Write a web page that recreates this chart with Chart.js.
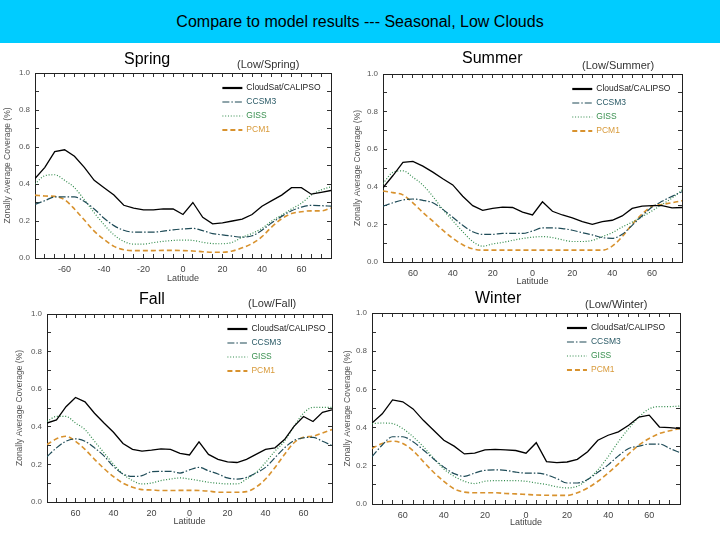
<!DOCTYPE html>
<html><head><meta charset="utf-8">
<script src="https://cdn.jsdelivr.net/npm/chart.js@4.4.0/dist/chart.umd.min.js"></script>
<style>
html,body{margin:0;padding:0;background:#fff;width:720px;height:540px;overflow:hidden;font-family:"Liberation Sans",Arial,sans-serif;}
#header{position:absolute;left:0;top:0;width:720px;height:43px;background:#00CCFF;color:#000;font-size:16px;text-align:center;line-height:43px;}
canvas{position:absolute;}
.lbl{position:absolute;white-space:nowrap;z-index:5;line-height:1;}
.big{font-size:16px;color:#000;}
.small{font-size:11px;color:#333;}
</style></head><body>
<div id="header">Compare to model results --- Seasonal, Low Clouds</div>
<canvas id="cSpring"></canvas>
<canvas id="cSummer"></canvas>
<canvas id="cFall"></canvas>
<canvas id="cWinter"></canvas>
<div class="lbl big" style="left:124px;top:51px;">Spring</div>
<div class="lbl small" style="left:237px;top:59px;">(Low/Spring)</div>
<div class="lbl big" style="left:462px;top:50px;">Summer</div>
<div class="lbl small" style="left:582px;top:60px;">(Low/Summer)</div>
<div class="lbl big" style="left:139px;top:291px;">Fall</div>
<div class="lbl small" style="left:248px;top:298px;">(Low/Fall)</div>
<div class="lbl big" style="left:475px;top:290px;">Winter</div>
<div class="lbl small" style="left:585px;top:299px;">(Low/Winter)</div>
<script>
// ---------- DATA ----------
const latitude = [-75,-70,-65,-60,-55,-50,-45,-40,-35,-30,-25,-20,-15,-10,-5,0,5,10,15,20,25,30,35,40,45,50,55,60,65,70,75];
const seriesNames = ["CloudSat/CALIPSO","CCSM3","GISS","PCM1"];

const springCloudSat = [0.43,0.49,0.575,0.585,0.55,0.49,0.42,0.38,0.34,0.285,0.27,0.26,0.26,0.265,0.265,0.235,0.30,0.22,0.185,0.19,0.20,0.21,0.235,0.28,0.31,0.34,0.38,0.38,0.345,0.355,0.365];
const springCCSM3    = [0.29,0.31,0.33,0.33,0.33,0.305,0.265,0.215,0.175,0.15,0.14,0.14,0.14,0.145,0.152,0.157,0.16,0.148,0.132,0.125,0.118,0.113,0.12,0.15,0.19,0.225,0.255,0.275,0.285,0.283,0.28];
const springGISS     = [0.40,0.445,0.45,0.42,0.38,0.315,0.245,0.18,0.125,0.09,0.075,0.075,0.083,0.09,0.095,0.097,0.095,0.085,0.078,0.077,0.085,0.112,0.133,0.16,0.2,0.232,0.265,0.296,0.34,0.368,0.385];
const springPCM1     = [0.34,0.335,0.333,0.315,0.265,0.205,0.145,0.1,0.063,0.045,0.04,0.04,0.04,0.041,0.041,0.04,0.038,0.034,0.031,0.031,0.038,0.055,0.078,0.115,0.168,0.212,0.24,0.25,0.255,0.255,0.27];

const summerCloudSat = [0.395,0.46,0.53,0.535,0.51,0.478,0.443,0.41,0.35,0.30,0.275,0.285,0.292,0.29,0.265,0.25,0.32,0.27,0.25,0.235,0.215,0.2,0.215,0.222,0.245,0.285,0.297,0.3,0.3,0.288,0.29];
const summerCCSM3    = [0.297,0.315,0.33,0.335,0.328,0.315,0.28,0.238,0.195,0.161,0.147,0.147,0.152,0.152,0.152,0.165,0.181,0.181,0.178,0.169,0.156,0.144,0.13,0.126,0.147,0.195,0.246,0.292,0.323,0.349,0.374];
const summerGISS     = [0.417,0.477,0.485,0.451,0.409,0.349,0.28,0.22,0.161,0.109,0.084,0.096,0.104,0.115,0.125,0.132,0.135,0.13,0.118,0.109,0.109,0.115,0.135,0.156,0.186,0.212,0.241,0.272,0.306,0.34,0.383];
const summerPCM1     = [0.378,0.369,0.357,0.315,0.263,0.217,0.169,0.126,0.092,0.07,0.063,0.063,0.063,0.063,0.063,0.063,0.063,0.063,0.063,0.063,0.063,0.063,0.063,0.084,0.135,0.2,0.255,0.297,0.306,0.315,0.326];

const fallCloudSat = [0.42,0.437,0.507,0.556,0.533,0.472,0.42,0.371,0.311,0.28,0.271,0.276,0.283,0.28,0.259,0.25,0.32,0.253,0.227,0.213,0.21,0.227,0.253,0.28,0.288,0.332,0.402,0.455,0.428,0.477,0.49];
const fallCCSM3    = [0.241,0.288,0.323,0.336,0.323,0.288,0.245,0.189,0.149,0.136,0.14,0.161,0.163,0.163,0.154,0.171,0.184,0.166,0.149,0.128,0.122,0.131,0.154,0.184,0.236,0.288,0.327,0.341,0.344,0.323,0.3];
const fallGISS     = [0.428,0.455,0.455,0.42,0.385,0.323,0.262,0.201,0.149,0.114,0.096,0.101,0.114,0.122,0.128,0.122,0.114,0.105,0.1,0.096,0.096,0.122,0.157,0.21,0.271,0.323,0.402,0.472,0.503,0.503,0.503];
const fallPCM1     = [0.306,0.336,0.35,0.323,0.28,0.227,0.178,0.135,0.1,0.079,0.066,0.064,0.061,0.061,0.062,0.062,0.061,0.058,0.052,0.052,0.052,0.055,0.079,0.122,0.184,0.253,0.315,0.344,0.35,0.367,0.385];

const winterCloudSat = [0.424,0.472,0.545,0.535,0.498,0.438,0.386,0.334,0.303,0.262,0.266,0.283,0.286,0.283,0.28,0.266,0.321,0.222,0.217,0.22,0.234,0.274,0.334,0.36,0.378,0.412,0.455,0.465,0.403,0.40,0.395];
const winterCCSM3    = [0.248,0.309,0.352,0.352,0.326,0.283,0.236,0.193,0.159,0.145,0.162,0.176,0.179,0.176,0.167,0.162,0.162,0.153,0.133,0.11,0.11,0.128,0.166,0.205,0.252,0.291,0.303,0.314,0.314,0.291,0.269];
const winterGISS     = [0.421,0.424,0.421,0.395,0.352,0.3,0.24,0.183,0.145,0.119,0.107,0.119,0.122,0.122,0.122,0.119,0.11,0.102,0.09,0.084,0.093,0.128,0.179,0.248,0.326,0.395,0.455,0.498,0.51,0.51,0.513];
const winterPCM1     = [0.291,0.317,0.329,0.317,0.279,0.222,0.166,0.119,0.079,0.062,0.059,0.059,0.059,0.055,0.053,0.05,0.047,0.046,0.045,0.045,0.059,0.084,0.119,0.162,0.21,0.262,0.309,0.343,0.369,0.383,0.395];

const xTickValues = [-60,-40,-20,0,20,40,60];
const springXTickLabels = ["-60","-40","-20","0","20","40","60"];
const otherXTickLabels  = ["60","40","20","0","20","40","60"];
const yTickLabels = ["0.0","0.2","0.4","0.6","0.8","1.0"];

// ---------- STYLE ----------
const seriesStyles = [
  {color:"#000000", text:"#222222", width:1.3, dash:[], legendWidth:2.2, smooth:false},
  {color:"#1e4b57", text:"#2a5a66", width:1.2, dash:[7,2,1.5,2], legendWidth:1.2, smooth:true},
  {color:"#2f8a4a", text:"#3a9050", width:1.2, dash:[1,1.8], legendWidth:1.2, smooth:true},
  {color:"#d8922e", text:"#d89a3a", width:1.6, dash:[5,3], legendWidth:2.2, smooth:true}
];
const FONT = '"Liberation Sans", Arial, sans-serif';
const TICK_IN = -4;   // negative length: tick marks point into the plot

const insideLegend = {
  id: 'insideLegend',
  afterDatasetsDraw(chart) {
    const {ctx, chartArea: a} = chart;
    ctx.save();
    chart.data.datasets.forEach((ds, i) => {
      const y = a.top + 15 + 14 * i;
      const x0 = a.left + 0.633 * (a.right - a.left);
      ctx.strokeStyle = ds.borderColor;
      ctx.lineWidth = ds.legendWidth;
      ctx.setLineDash(ds.borderDash || []);
      ctx.beginPath(); ctx.moveTo(x0, y); ctx.lineTo(x0 + 20, y); ctx.stroke();
      ctx.setLineDash([]);
      ctx.fillStyle = ds.textColor;
      ctx.font = '8.5px ' + FONT;
      ctx.textBaseline = 'middle'; ctx.textAlign = 'left';
      ctx.fillText(ds.label, x0 + 24, y);
    });
    ctx.restore();
  }
};

function makePanel(id, layout, seriesList, xLabels) {
  const cv = document.getElementById(id);
  cv.width = layout.width; cv.height = layout.height;
  cv.style.left = layout.left + 'px'; cv.style.top = layout.top + 'px';
  const yW = layout.plotLeft - layout.left;
  const xH = layout.top + layout.height - layout.plotBottom;
  const topH = 1, rightW = 1;
  const padTop = layout.plotTop - layout.top - topH;
  const padRight = layout.left + layout.width - layout.plotRight - rightW;
  const datasets = seriesList.map((vals, i) => {
    const st = seriesStyles[i];
    return {
      label: seriesNames[i],
      data: latitude.map((lat, k) => ({x: lat, y: vals[k]})),
      borderColor: st.color, textColor: st.text, legendWidth: st.legendWidth,
      borderWidth: st.width, borderDash: st.dash,
      pointRadius: 0, fill: false,
      tension: st.smooth ? 0.4 : 0,
      cubicInterpolationMode: st.smooth ? 'monotone' : 'default'
    };
  });
  const frame = {color: '#222', width: 1};
  new Chart(cv, {
    type: 'line',
    data: {datasets},
    plugins: [insideLegend],
    options: {
      responsive: false, animation: false, devicePixelRatio: 1,
      layout: {padding: {top: padTop, right: padRight, left: 0, bottom: 0}},
      plugins: {legend: {display: false}, tooltip: {enabled: false}, title: {display: false}},
      scales: {
        x: {
          type: 'linear', position: 'bottom', min: -75, max: 75,
          afterFit: s => { s.height = xH; },
          border: frame,
          grid: {drawOnChartArea: false, drawTicks: true, tickLength: TICK_IN, color: '#333'},
          ticks: {
            stepSize: 5, autoSkip: false, maxRotation: 0, padding: 6 - TICK_IN,
            color: '#444', font: {size: 9, family: FONT},
            callback: v => { const k = xTickValues.indexOf(Math.round(v)); return k >= 0 ? xLabels[k] : ''; }
          },
          title: {display: true, text: 'Latitude', color: '#444', font: {size: 9, family: FONT}, padding: {top: 0, bottom: 1}}
        },
        x2: {
          type: 'linear', position: 'top', min: -75, max: 75,
          afterFit: s => { s.height = topH; },
          border: frame,
          grid: {drawOnChartArea: false, drawTicks: true, tickLength: TICK_IN, color: '#333'},
          ticks: {display: false, stepSize: 5, autoSkip: false}
        },
        y: {
          type: 'linear', position: 'left', min: 0, max: 1,
          afterFit: s => { s.width = yW; },
          border: frame,
          grid: {drawOnChartArea: false, drawTicks: true, tickLength: TICK_IN, color: '#333'},
          ticks: {
            stepSize: 0.1, autoSkip: false, padding: 5 - TICK_IN,
            color: '#555', font: {size: 8, family: FONT},
            callback: v => { const t = Math.round(v * 10); return t % 2 === 0 ? yTickLabels[t / 2] : ''; }
          },
          title: {display: true, text: 'Zonally Average Coverage (%)', color: '#555', font: {size: 8.5, family: FONT}, padding: {top: 3, bottom: 0}}
        },
        y2: {
          type: 'linear', position: 'right', min: 0, max: 1,
          afterFit: s => { s.width = rightW; },
          border: frame,
          grid: {drawOnChartArea: false, drawTicks: true, tickLength: TICK_IN, color: '#333'},
          ticks: {display: false, stepSize: 0.1, autoSkip: false}
        }
      }
    }
  });
}

makePanel('cSpring', {left: 0, top: 45, width: 345, height: 240, plotLeft: 35, plotTop: 73, plotRight: 331, plotBottom: 258},
  [springCloudSat, springCCSM3, springGISS, springPCM1], springXTickLabels);
makePanel('cSummer', {left: 350, top: 45, width: 370, height: 243, plotLeft: 383, plotTop: 74, plotRight: 682, plotBottom: 262},
  [summerCloudSat, summerCCSM3, summerGISS, summerPCM1], otherXTickLabels);
makePanel('cFall', {left: 12, top: 288, width: 336, height: 240, plotLeft: 47, plotTop: 314, plotRight: 332, plotBottom: 502},
  [fallCloudSat, fallCCSM3, fallGISS, fallPCM1], otherXTickLabels);
makePanel('cWinter', {left: 340, top: 288, width: 375, height: 241, plotLeft: 372, plotTop: 313, plotRight: 680, plotBottom: 504},
  [winterCloudSat, winterCCSM3, winterGISS, winterPCM1], otherXTickLabels);
</script>
</body></html>
